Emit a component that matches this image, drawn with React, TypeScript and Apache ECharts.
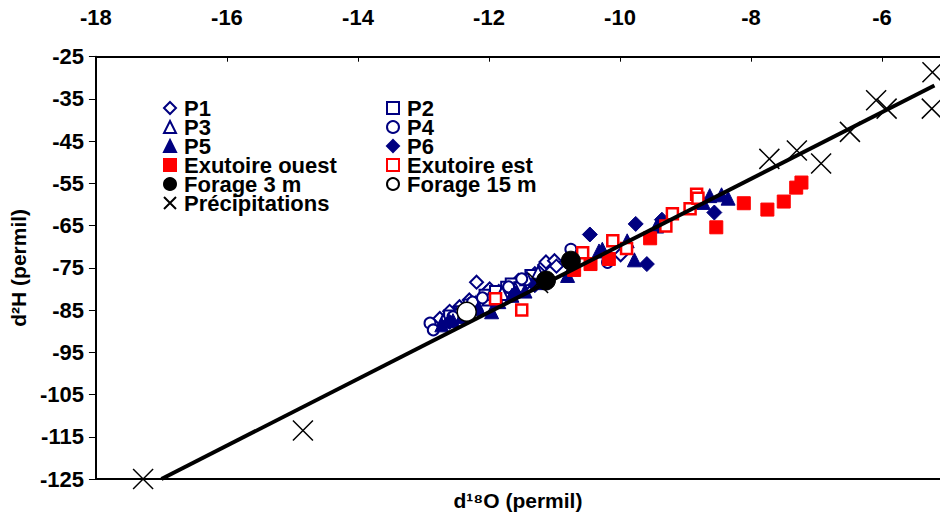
import React, { useEffect, useRef } from "react";
import * as echarts from "echarts";

const NAVY = "#000080";
const RED = "#ff0000";
const FONT = 'Arial, "Liberation Sans", sans-serif';

const xTicks = [-18, -16, -14, -12, -10, -8, -6];
const yTicks = [-125, -115, -105, -95, -85, -75, -65, -55, -45, -35, -25];

const p1 = [[-12.75,-87.0],[-12.6,-85.3],[-12.45,-84.2],[-12.3,-82.6],[-12.19,-78.4],[-12.05,-81.0],[-11.99,-80.0],[-11.85,-80.6],[-11.7,-79.2],[-11.55,-78.0],[-11.41,-78.4],[-11.3,-76.4],[-11.15,-74.3],[-11.13,-73.6],[-11.0,-73.3],[-10.97,-74.6],[-9.99,-71.9]];
const p2 = [[-12.6,-86.4],[-12.44,-85.4],[-12.3,-83.8],[-12.06,-81.5],[-11.9,-80.6],[-11.73,-79.6],[-11.66,-78.8],[-11.53,-79.7],[-11.36,-76.8]];
const p3 = [[-12.7,-87.6],[-12.5,-86.0],[-12.2,-83.4],[-12.0,-82.4],[-11.8,-81.1],[-11.6,-80.1],[-11.42,-77.6],[-11.25,-76.2]];
const p4 = [[-12.9,-88.1],[-12.85,-89.7],[-12.55,-86.6],[-12.25,-83.1],[-12.1,-82.1],[-11.7,-79.5],[-11.5,-77.6],[-10.75,-70.6],[-10.19,-73.7]];
const p5 = [[-12.72,-88.5],[-12.55,-87.5],[-12.4,-86.5],[-12.16,-84.6],[-11.96,-85.4],[-11.85,-83.0],[-11.65,-81.5],[-11.45,-80.5],[-11.2,-78.5],[-10.8,-76.8],[-10.32,-71.0],[-10.27,-70.6],[-9.89,-68.6],[-9.78,-73.1],[-9.44,-65.1],[-8.73,-59.5],[-8.63,-57.9],[-8.45,-57.7],[-8.35,-58.5]];
const p6 = [[-12.6,-87.8],[-12.3,-85.1],[-11.9,-82.6],[-11.6,-81.1],[-11.3,-79.1],[-10.46,-67.1],[-9.76,-64.6],[-9.59,-74.1],[-9.36,-63.6],[-8.56,-61.9]];
const exutoireOuest = [[-10.7,-75.5],[-10.45,-74.1],[-10.17,-72.9],[-9.54,-68.0],[-8.53,-65.4],[-8.11,-59.7],[-7.75,-61.2],[-7.5,-59.3],[-7.31,-56.0],[-7.23,-54.8]];
const exutoireEst = [[-11.9,-82.3],[-11.5,-85.0],[-10.57,-71.4],[-10.11,-68.6],[-9.9,-70.4],[-9.3,-65.1],[-9.2,-62.2],[-8.93,-61.0],[-8.83,-57.6],[-8.81,-58.5]];
const forage3 = [[-11.13,-78.0],[-10.75,-73.3]];
const forage15 = [[-12.34,-85.4]];
const precipitations = [[-17.28,-125],[-14.84,-113.5],[-11.25,-78.6],[-7.72,-49.2],[-7.3,-47.2],[-6.93,-50.3],[-6.49,-42.8],[-6.09,-35.3],[-5.93,-37.3],[-5.23,-28.7],[-5.24,-37.3]];
const droite = [[-17.0,-125],[-5.2,-31.8]];

const X_SYMBOL = "path://M0,0L20,20M20,0L0,20";

function sc(name: string, data: number[][], symbol: string, size: number, fill: string, stroke: string, bw: number, z: number) {
  return {
    type: "scatter",
    name,
    data,
    symbol,
    symbolSize: size,
    itemStyle: { color: fill, borderColor: stroke, borderWidth: bw, opacity: 1 },
    emphasis: { disabled: true },
    z,
  };
}

export default function App() {
  const ref = useRef<HTMLDivElement>(null);
  useEffect(() => {
    document.body.style.margin = "0";
    document.body.style.overflow = "hidden";
    const chart = echarts.init(ref.current!, null, { renderer: "svg", width: 940, height: 516 });
    const labelStyle = { fontSize: 22, fontWeight: "bold", color: "#000", fontFamily: FONT };
    const legendBase = {
      orient: "vertical",
      top: 97,
      padding: 0,
      itemWidth: 12,
      itemHeight: 12,
      itemGap: -3,
      selectedMode: false,
      textStyle: { fontSize: 22, fontWeight: "bold", color: "#000", fontFamily: FONT, padding: [0, 0, 0, 3] },
    };
    chart.setOption({
      animation: false,
      backgroundColor: "#fff",
      grid: { left: 90, top: 56.7, right: 0, bottom: 31.7, containLabel: false },
      legend: [
        { ...legendBase, left: 163, data: ["P1", "P3", "P5", "Exutoire ouest", "Forage 3 m", "Précipitations"] },
        { ...legendBase, left: 386, data: ["P2", "P4", "P6", "Exutoire est", "Forage 15 m"] },
      ],
      xAxis: [
        {
          type: "value",
          position: "top",
          min: xTicks[0],
          max: -5.115,
          interval: 2,
          axisLine: { show: true, onZero: false, lineStyle: { color: "#000", width: 2 } },
          axisTick: { show: true, inside: true, length: 5, lineStyle: { color: "#000", width: 1 } },
          axisLabel: { ...labelStyle, margin: 28, showMaxLabel: false },
          splitLine: { show: false },
        },
        {
          type: "value",
          position: "bottom",
          min: xTicks[0],
          max: -5.115,
          interval: 2,
          axisLine: { show: true, onZero: false, lineStyle: { color: "#000", width: 2 } },
          axisTick: { show: false },
          axisLabel: { show: false },
          splitLine: { show: false },
          name: "d¹⁸O (permil)",
          nameLocation: "middle",
          nameGap: 11,
          nameTextStyle: { ...labelStyle, fontSize: 21 },
        },
      ],
      yAxis: {
        type: "value",
        min: yTicks[0],
        max: yTicks[yTicks.length - 1],
        interval: 10,
        axisLine: { show: true, onZero: false, lineStyle: { color: "#000", width: 2 } },
        axisTick: { show: true, inside: false, length: 7, lineStyle: { color: "#000", width: 1 } },
        axisLabel: { ...labelStyle, margin: 12 },
        splitLine: { show: false },
        name: "d²H (permil)",
        nameLocation: "middle",
        nameGap: 58,
        nameRotate: 90,
        nameTextStyle: { ...labelStyle, fontSize: 21 },
      },
      series: [
        sc("P1", p1, "diamond", 13, "#fff", NAVY, 2, 2),
        sc("P2", p2, "rect", 11, "#fff", NAVY, 2, 2),
        sc("P3", p3, "triangle", 13, "#fff", NAVY, 2, 2),
        sc("P4", p4, "circle", 11, "#fff", NAVY, 2, 2),
        sc("P5", p5, "triangle", 14, NAVY, NAVY, 1, 2),
        sc("P6", p6, "diamond", 15, NAVY, NAVY, 1, 2),
        sc("Exutoire ouest", exutoireOuest, "rect", 13, RED, RED, 1, 3),
        sc("Exutoire est", exutoireEst, "rect", 11, "#fff", RED, 2.5, 3),
        {
          type: "line",
          name: "droite",
          data: droite,
          symbol: "none",
          lineStyle: { color: "#000", width: 4 },
          emphasis: { disabled: true },
          z: 4,
        },
        sc("Forage 3 m", forage3, "circle", 19, "#000", "#000", 1, 5),
        sc("Forage 15 m", forage15, "circle", 19, "#fff", "#000", 1.5, 5),
        sc("Précipitations", precipitations, X_SYMBOL, 20, "rgba(0,0,0,0)", "#000", 1.5, 6),
      ],
    });
    return () => chart.dispose();
  }, []);
  return <div ref={ref} style={{ width: 940, height: 516, position: "absolute", left: 0, top: 0 }} />;
}
